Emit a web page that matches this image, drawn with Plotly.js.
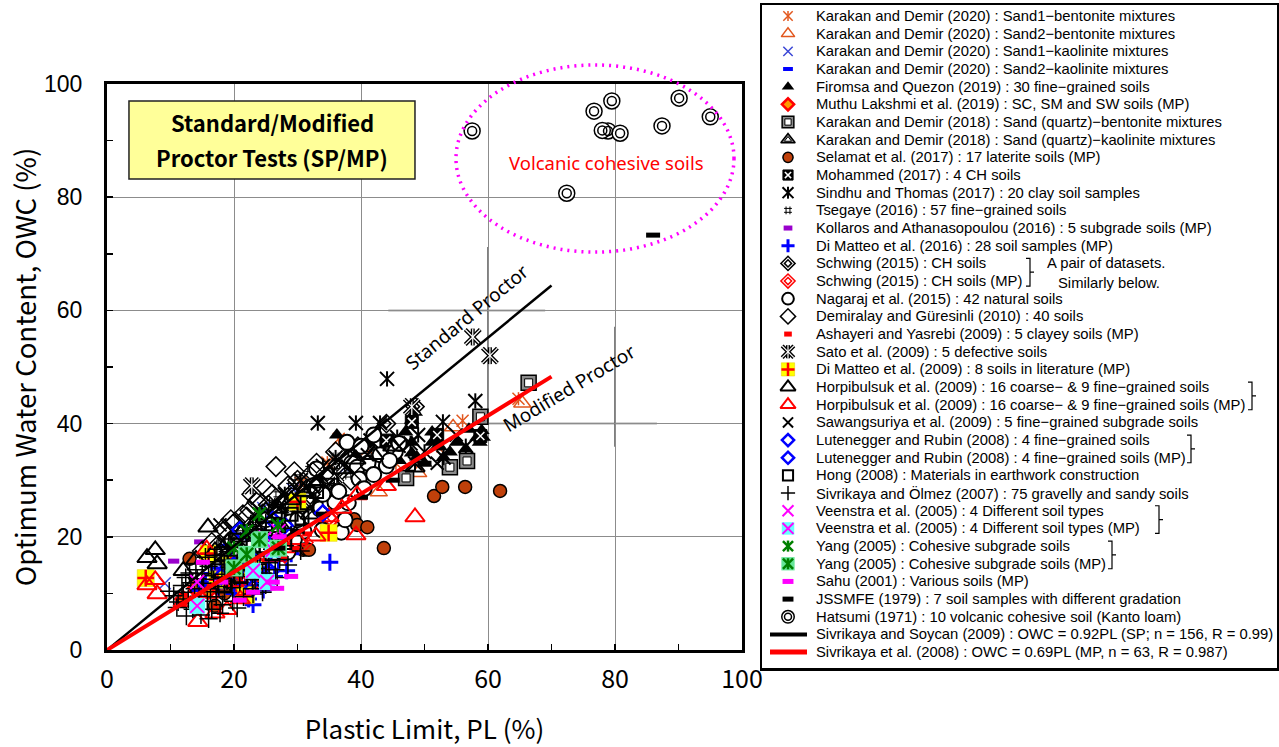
<!DOCTYPE html>
<html><head><meta charset="utf-8">
<script src="https://cdn.plot.ly/plotly-3.0.1.min.js"></script>
<style>html,body{margin:0;padding:0;background:#fff;}#chart{width:1279px;height:747px;}</style>
</head><body><div id="chart"></div>
<script>
// ---------- data (PL %, OWC %) ----------
const kd20S1B_PL = [36.5,34.7,30.5,41,45.5,52,64.8,56];
const kd20S1B_OWC = [37.3,33.1,29.5,35.5,33,36,44.4,40.5];
const kd20S2B_PL = [54.5,42.8,49,65.4,36,31];
const kd20S2B_OWC = [39.4,27.9,31.3,43.6,26,23];
const kd20S1K_PL = [9.1,24.6,29.3,37.5,18.5,21,26.5,32];
const kd20S1K_OWC = [11.8,25.1,28.4,32.3,16,19,22.5,27];
const kd20S2K_PL = [20,22.5,25,28,31];
const kd20S2K_OWC = [15,17,19.5,21.5,23.5];
const firomsa_PL = [36.2,41,39.2,44.1,48,48,51.2,52.4,55.1,58.3,58.7,59.2,48,51.2,43,42.5,48.8,52,48.5,38,40,46,50,54,57,59,45,47,53,56.5];
const firomsa_OWC = [38,36.6,34.4,35.5,36.7,34.8,36.7,35.9,36.7,37.6,36.7,37.6,40.6,38.5,34.1,34.1,34.1,35.9,42,33,32,33.5,33,35,39,38.8,37,38.5,34,35.5];
const muthu_PL = [12,14,16,19,21,23];
const muthu_OWC = [9,11,10.5,12.8,11.1,13.5];
const kd18B_PL = [66.4,58.8,54,56.7,47.1];
const kd18B_OWC = [47.2,41.2,32.3,33.4,30.4];
const kd18K_PL = [26,30,33,36,40,44];
const kd18K_OWC = [21,24,27,29,32,35];
const selamat_PL = [13,17,18.5,20,22,30.9,31.4,31.8,38.9,39.4,41,43.6,51.5,52.8,56.4,61.9,24];
const selamat_OWC = [16.1,7.8,10,12.5,14,17.7,17.8,17.7,23.1,22.1,21.7,18,27.2,28.8,28.8,28.1,13];
const mohammed_PL = [48,58.8,44,52];
const mohammed_OWC = [40.3,37.8,37,38];
const sindhu_PL = [44.1,33.2,39.2,43,52.9,58,45.7,47.8,50,53,56.5,49,41.5,38,36,30.5,34,28,26,48.5];
const sindhu_OWC = [47.9,40.1,40.1,40.1,40.3,44,37.6,36.5,35,34,36,38,37,35.5,34,30,32.5,27.5,25,33];
const tsegaye_PL = [16,17.5,18.5,19.5,20.5,21,22,22.5,23.5,24,25,25.5,26.5,27,28,28.5,29.5,30,31,31.5,32.5,33,34,35,36,37,38,39,40,41,42,20,23,26,29,32,18,21,24,27,30,19,22,25,28,31,34,37,40,17,23,26,33,36,38,27,30];
const tsegaye_OWC = [15,16.5,14.5,17.5,16,18.5,17,20,18.5,21,19.5,22.5,21,24,22.5,25.5,24,27,25.5,28.5,27,30,28.5,31,29.5,32.5,31,34,32.5,35.5,34,20,23,26,29,32,19,21.5,24.5,27.5,30.5,13,14.5,16.5,18.5,20.5,23,26,28.5,12.5,11.5,14,26,34,36,19,22.5];
const kollaros_PL = [10.5,14.6,18,21.5,24];
const kollaros_OWC = [15.7,19.1,14,16.5,13.5];
const dm16_PL = [14.5,15.5,16.5,17.5,18,18.8,19.5,20,20.6,21.2,21.8,22.3,22.9,23.5,24,24.6,25.2,25.8,26.4,27,27.6,28.3,29,22,19,24.8,23,35.1];
const dm16_OWC = [10.5,12,13.5,11,14.5,12.5,16,10,13.8,15.2,11.4,9,16.8,12.6,14.5,10.6,14.5,17.5,13,15.8,19,14,17,20.5,18.5,20,8,15.5];
const schwing_PL = [48.5,39.5,44,35];
const schwing_OWC = [43,36,40,30];
const schwingMP_PL = [22.5,35.4,36.5,28,31];
const schwingMP_OWC = [12.4,23.3,22.2,17,19];
const nagaraj_PL = [19.7,21,23,24.5,26,27.6,28.8,28.5,30.4,31,32,33.5,33.9,35.1,35.9,36.9,37.5,35,36.5,37.8,38.5,39.4,39.7,40.5,41.1,42,43,44,45.4,46,34,32.5,31.5,30,38,29.5,27,25,33,40,42,44.5];
const nagaraj_OWC = [19.4,17.5,20.5,18,21.5,17.3,22.6,17.3,25.1,21,23.5,24.9,21.2,26.1,26.1,20.8,23,30.6,28,36.7,33,32.3,30.2,28.5,33,31,34.5,32.5,35,36.5,27.5,29,26.5,23,26,19.5,24,23,32,36,38,33.5];
const demiralay_PL = [15,16.5,18.3,20,20.2,21.4,22,22.5,23.6,23.8,25.4,26.6,27.7,27.7,28.3,29,30.9,31.5,32.4,33.5,34.5,36.5,38.4,39,17.5,19,21,24.5,26,28.5,30,32,33,35,25,29.5,36,19.5,22.8,18];
const demiralay_OWC = [17.5,19,21.5,22.4,22.6,23.9,23.5,24.7,26.1,26.5,25.6,32.4,26.1,25.8,26.1,27.5,24.7,28.5,31.4,29.5,30.5,32.2,30,33,18.5,20,21,24,27.5,29,30,27.5,33,31,28.5,31.5,35,23,27.5,17];
const ashayeri_PL = [29.5,27.7,17,23,31.5];
const ashayeri_OWC = [18,16.3,12.5,13.2,20.5];
const sato_PL = [57.6,60.3,48,22.8,36];
const sato_OWC = [55.3,52,43,29,31];
const dm09_PL = [6.1,21.9,30,34.9,17.4,19.5,23,16];
const dm09_OWC = [12.7,9.7,26.2,20.7,12.4,15,14.2,17];
const horpSP_PL = [6.3,7.6,7.9,15.9,39.2,48.5,12,14,17,19,21,23,25,27,29,31,33,35,37,42,45,20,24,28,32];
const horpSP_OWC = [16.3,17.7,15.2,21.7,33.7,32.3,14,16,17.5,19,20.5,22,23.5,25,26.5,28,29.5,31,32,34.5,36,14,18,21,24];
const horpMP_PL = [6.3,7.6,7.9,14.3,18.9,15.7,39.4,48.5,32.9,39.2,35,12,16,20,22,24,26,28,30,17,21,25,37,44,13];
const horpMP_OWC = [11.5,12.4,9.9,5,7.1,17.8,27.4,23.5,20.1,20.3,23.5,8.5,10,12,13.5,15,16.5,18,19.5,6.5,9,11.5,25,29,9];
const sawang_PL = [17.8,41,52,46,55];
const sawang_OWC = [22.1,34.5,33,36,38];
const lut_PL = [20.9,26.1,34,28];
const lut_OWC = [21.2,23,24.2,22];
const lutMP_PL = [25.7,20,23,18];
const lutMP_OWC = [13.8,15,11,13];
const hong_PL = [16,17.5,18.5,19.5,20.2,21,22,23,24,25,26,27,28,29,30.7,31.5,33,20,24,18,22.5,26.5];
const hong_OWC = [12,14,11.5,15.5,19.4,13,16,18.5,14,20,17,22,19,24,23.3,26,28,17,22,17,21,24.5];
const sivOl_PL = [10.5,11.2,12,12.8,13.5,13.8,14.5,15.2,15.8,16.3,16.8,17.2,17.6,18.1,18.5,18.9,19.3,19.7,20.1,20.5,20.9,21.3,21.7,22.1,22.5,22.9,23.3,23.7,24.1,24.5,25,25.5,26,26.5,27.2,28,29,12.4,13,14,15,16,17,18,19,20,21,14.8,16.5,18.2,19.8,21.5,23,11.8,13.2,14.2,15.5,17.3,19.5,22,24,26,17.8,20.5,24.5,26.8,28.5,30.5,9.8,11,12.5,16,27.5,25,31];
const sivOl_OWC = [9.6,8.5,10.2,9,7.2,10.8,9.5,11.8,8.6,10.3,12.5,9.4,11.2,13.4,10.1,12.2,14.6,11,13.1,15.5,12,14,16.3,13,15,10.8,12.4,14.4,16.6,13.6,11.5,15.4,17.8,14.2,16,18.4,20.2,12.8,13.6,14.2,13.5,14.8,15.6,16.7,17.4,18.5,19.2,6.2,7.2,8,8.6,9.4,9.9,11.4,11.9,12.6,16.4,17.8,19.6,18,19.5,20.8,6.5,7.4,10.2,12.8,15,17.5,10.4,7.5,6,5.5,21.5,22.5,22];
const veen_PL = [14.2,25,22,27];
const veen_OWC = [12,19.9,15.5,21];
const veenMP_PL = [14.2,25.2,26.1,23];
const veenMP_OWC = [7.8,12,17.7,14];
const yang_PL = [22,26.9,24,20];
const yang_OWC = [21,22,24,18];
const yangMP_PL = [22,27,24,20];
const yangMP_OWC = [16.9,18,19.5,14.5];
const sahu_PL = [15.1,26.8,27.2,26.1,20.9,23,18,29];
const sahu_OWC = [15.5,10.9,20,12,8.8,10.2,12,13];
const jssmfe_PL = [86,30,34,40,27,45,50];
const jssmfe_OWC = [73.3,21,24,27,18,30,33];
const hatsumi_PL = [57.5,76.7,79.5,78.9,80.8,87.4,90.1,95,72.4,78];
const hatsumi_OWC = [91.7,95.2,97,91.7,91.3,92.6,97.5,94.2,80.7,91.8];
// fitted relations
const spLine_PL = [0, 70];
const spLine_OWC = [0, 64.4];   // OWC = 0.92 PL
const mpLine_PL = [0, 70];
const mpLine_OWC = [0, 48.3];   // OWC = 0.69 PL

const legendLabels = [
 'Karakan and Demir (2020) : Sand1−bentonite mixtures',
 'Karakan and Demir (2020) : Sand2−bentonite mixtures',
 'Karakan and Demir (2020) : Sand1−kaolinite mixtures',
 'Karakan and Demir (2020) : Sand2−kaolinite mixtures',
 'Firomsa and Quezon (2019) : 30 fine−grained soils',
 'Muthu Lakshmi et al. (2019) : SC, SM and SW soils (MP)',
 'Karakan and Demir (2018) : Sand (quartz)−bentonite mixtures',
 'Karakan and Demir (2018) : Sand (quartz)−kaolinite mixtures',
 'Selamat et al. (2017) : 17 laterite soils (MP)',
 'Mohammed (2017) : 4 CH soils',
 'Sindhu and Thomas (2017) : 20 clay soil samples',
 'Tsegaye (2016) : 57 fine−grained soils',
 'Kollaros and Athanasopoulou (2016) : 5 subgrade soils (MP)',
 'Di Matteo et al. (2016) : 28 soil samples (MP)',
 'Schwing (2015) : CH soils',
 'Schwing (2015) : CH soils (MP)',
 'Nagaraj et al. (2015) : 42 natural soils',
 'Demiralay and Güresinli (2010) : 40 soils',
 'Ashayeri and Yasrebi (2009) : 5 clayey soils (MP)',
 'Sato et al. (2009) : 5 defective soils',
 'Di Matteo et al. (2009) : 8 soils in literature (MP)',
 'Horpibulsuk et al. (2009) : 16 coarse− & 9 fine−grained soils',
 'Horpibulsuk et al. (2009) : 16 coarse− & 9 fine−grained soils (MP)',
 'Sawangsuriya et al. (2009) : 5 fine−grained subgrade soils',
 'Lutenegger and Rubin (2008) : 4 fine−grained soils',
 'Lutenegger and Rubin (2008) : 4 fine−grained soils (MP)',
 'Hong (2008) : Materials in earthwork construction',
 'Sivrikaya and Ölmez (2007) : 75 gravelly and sandy soils',
 'Veenstra et al. (2005) : 4 Different soil types',
 'Veenstra et al. (2005) : 4 Different soil types (MP)',
 'Yang (2005) : Cohesive subgrade soils',
 'Yang (2005) : Cohesive subgrade soils (MP)',
 'Sahu (2001) : Various soils (MP)',
 'JSSMFE (1979) : 7 soil samples with different gradation',
 'Hatsumi (1971) : 10 volcanic cohesive soil (Kanto loam)',
 'Sivrikaya and Soycan (2009) : OWC = 0.92PL (SP; n = 156, R = 0.99)',
 'Sivrikaya et al. (2008) : OWC = 0.69PL (MP, n = 63, R = 0.987)'
];

// ---------- styles ----------
const OR='#E2571E', BX='#3B47D6', BL='#0000FF', MG='#FF00FF', GR='#008000';
const ast6 = (c,w,s)=>[{s:'x-thin-open',size:s,lc:c,lw:w},{s:'line-ns-open',size:s*0.78,lc:c,lw:w}];
const series = [
 {x:kd20S1B_PL,y:kd20S1B_OWC,L:ast6(OR,1.5,12)},
 {x:kd20S2B_PL,y:kd20S2B_OWC,L:[{s:'triangle-up-open',size:15,lc:OR,lw:1.5}]},
 {x:kd20S1K_PL,y:kd20S1K_OWC,L:[{s:'x-thin-open',size:12,lc:BX,lw:1.5}]},
 {x:kd20S2K_PL,y:kd20S2K_OWC,L:[{s:'line-ew-open',size:9,lc:BL,lw:4}]},
 {x:firomsa_PL,y:firomsa_OWC,L:[{s:'triangle-up',size:14,c:'black',lc:'black',lw:0}]},
 {x:muthu_PL,y:muthu_OWC,L:[{s:'diamond',size:12,c:'#FF9900',lc:'#FF0000',lw:2.5}]},
 {x:kd18B_PL,y:kd18B_OWC,L:[{s:'square',size:15,c:'#8c8c8c',lc:'black',lw:1.5},{s:'square',size:8,c:'white',lc:'black',lw:1}]},
 {x:kd18K_PL,y:kd18K_OWC,L:[{s:'triangle-up',size:16,c:'#8c8c8c',lc:'black',lw:1.5},{s:'triangle-up',size:8,c:'white',lc:'black',lw:1}]},
 {x:selamat_PL,y:selamat_OWC,L:[{s:'circle',size:13,c:'#C0400A',lc:'black',lw:1.5}]},
 {x:mohammed_PL,y:mohammed_OWC,L:[{s:'square',size:13,c:'black',lc:'black',lw:1},{s:'x-thin-open',size:8,lc:'white',lw:1.5}]},
 {x:sindhu_PL,y:sindhu_OWC,L:ast6('black',2,14)},
 {x:tsegaye_PL,y:tsegaye_OWC,L:[{s:'hash-open',size:10,lc:'black',lw:1}]},
 {x:kollaros_PL,y:kollaros_OWC,L:[{s:'line-ew-open',size:8,lc:'#9900CC',lw:5}]},
 {x:dm16_PL,y:dm16_OWC,L:[{s:'cross-thin-open',size:12,lc:BL,lw:3}]},
 {x:schwing_PL,y:schwing_OWC,L:[{s:'diamond-open',size:14,lc:'black',lw:1.5},{s:'diamond-open',size:7,lc:'black',lw:1.5}]},
 {x:schwingMP_PL,y:schwingMP_OWC,L:[{s:'diamond-open',size:14,lc:'#FF0000',lw:1.5},{s:'diamond-open',size:7,lc:'#FF0000',lw:1.5}]},
 {x:nagaraj_PL,y:nagaraj_OWC,L:[{s:'circle',size:15,c:'white',lc:'black',lw:2}]},
 {x:demiralay_PL,y:demiralay_OWC,L:[{s:'diamond-open',size:15,lc:'black',lw:1.5}]},
 {x:ashayeri_PL,y:ashayeri_OWC,L:[{s:'line-ew-open',size:7,lc:'#FF0000',lw:5}]},
 {x:sato_PL,y:sato_OWC,L:[{s:'x-thin-open',size:15,lc:'black',lw:4},{s:'line-ns-open',size:12,lc:'black',lw:4},{s:'x-thin-open',size:15,lc:'white',lw:1.2},{s:'line-ns-open',size:12,lc:'white',lw:1.2}]},
 {x:dm09_PL,y:dm09_OWC,L:[{s:'square',size:17,c:'#FFFF00',lc:'#E6C800',lw:0.5},{s:'cross-thin-open',size:12,lc:'#FF0000',lw:2.5}]},
 {x:horpSP_PL,y:horpSP_OWC,L:[{s:'triangle-up-open',size:17,lc:'black',lw:2}]},
 {x:horpMP_PL,y:horpMP_OWC,L:[{s:'triangle-up-open',size:17,lc:'#FF0000',lw:2}]},
 {x:sawang_PL,y:sawang_OWC,L:[{s:'x-thin-open',size:13,lc:'black',lw:2}]},
 {x:lut_PL,y:lut_OWC,L:[{s:'diamond-open',size:12,lc:BL,lw:2.5}]},
 {x:lutMP_PL,y:lutMP_OWC,L:[{s:'diamond-open',size:12,lc:BL,lw:2.5}]},
 {x:hong_PL,y:hong_OWC,L:[{s:'square-open',size:13,lc:'black',lw:2}]},
 {x:sivOl_PL,y:sivOl_OWC,L:[{s:'cross-thin-open',size:13,lc:'black',lw:1.5}]},
 {x:veen_PL,y:veen_OWC,L:[{s:'x-thin-open',size:14,lc:MG,lw:2}]},
 {x:veenMP_PL,y:veenMP_OWC,L:[{s:'square',size:16,c:'#66FFFF',lc:'#66FFFF',lw:0},{s:'x-thin-open',size:14,lc:MG,lw:2}]},
 {x:yang_PL,y:yang_OWC,L:ast6(GR,2.5,13)},
 {x:yangMP_PL,y:yangMP_OWC,L:[{s:'square',size:17,c:'#66E699',lc:'#66E699',lw:0}].concat(ast6(GR,2.5,13))},
 {x:sahu_PL,y:sahu_OWC,L:[{s:'line-ew-open',size:10,lc:MG,lw:5}]},
 {x:jssmfe_PL,y:jssmfe_OWC,L:[{s:'line-ew-open',size:10,lc:'black',lw:5}]},
 {x:hatsumi_PL,y:hatsumi_OWC,L:[{s:'circle',size:16,c:'white',lc:'black',lw:1.5},{s:'circle-open',size:9,lc:'black',lw:1.5}]}
];

const traces = [];
function mk(x,y,L,xa,ya,scale){
  const open = !L.c;
  return {type:'scatter',mode:'markers',x:x,y:y,xaxis:xa,yaxis:ya,showlegend:false,hoverinfo:'skip',cliponaxis:false,
    marker:{symbol:L.s,size:L.size*scale,color:open?L.lc:L.c,opacity:1,line:{color:L.lc,width:L.lw}}};
}
const HATS = series.length-1;
series.forEach((sd,i)=>{ if(i!==HATS) sd.L.forEach(L=>traces.push(mk(sd.x,sd.y,L,'x','y',1))); });
traces.push({type:'scatter',mode:'lines',x:spLine_PL,y:spLine_OWC,xaxis:'x',yaxis:'y',showlegend:false,hoverinfo:'skip',line:{color:'black',width:2.5}});
traces.push({type:'scatter',mode:'lines',x:mpLine_PL,y:mpLine_OWC,xaxis:'x',yaxis:'y',showlegend:false,hoverinfo:'skip',line:{color:'#FF0000',width:4}});
series[HATS].L.forEach(L=>traces.push(mk(series[HATS].x,series[HATS].y,L,'x','y',1)));

// ---------- hand-made legend panel (x2/y2 in pixel-like units) ----------
const rowY = i => 16 + i*17.67;
const symX = 26, txtX = 52;
series.forEach((sd,i)=>{ sd.L.forEach(L=>traces.push(mk([symX],[rowY(i)],L,'x2','y2',0.78))); });
traces.push({type:'scatter',mode:'lines',x:[8,45],y:[rowY(35),rowY(35)],xaxis:'x2',yaxis:'y2',showlegend:false,hoverinfo:'skip',line:{color:'black',width:4}});
traces.push({type:'scatter',mode:'lines',x:[8,45],y:[rowY(36),rowY(36)],xaxis:'x2',yaxis:'y2',showlegend:false,hoverinfo:'skip',line:{color:'#FF0000',width:5}});

const LF = {family:'Liberation Sans, Arial, sans-serif',size:14.8,color:'black'};
const annotations = legendLabels.map((t,i)=>({xref:'x2',yref:'y2',x:txtX,y:rowY(i),text:t,showarrow:false,xanchor:'left',yanchor:'middle',font:LF}));
annotations.push({xref:'x2',yref:'y2',x:283,y:rowY(14),text:'A pair of datasets.',showarrow:false,xanchor:'left',yanchor:'middle',font:LF});
annotations.push({xref:'x2',yref:'y2',x:294,y:rowY(15)+2,text:'Similarly below.',showarrow:false,xanchor:'left',yanchor:'middle',font:LF});

function bracket(x,i){
  const y0=rowY(i)-5, y1=rowY(i+1)+5, ym=(y0+y1)/2;
  return {type:'path',xref:'x2',yref:'y2',path:`M${x-4},${y0} L${x},${y0} L${x},${y1} L${x-4},${y1} M${x},${ym} L${x+4},${ym}`,line:{color:'black',width:1.2}};
}
const shapes = [
  bracket(268,14), bracket(490,21), bracket(429,24), bracket(397,28), bracket(350,30),
  // darker crosshair segments in the plot
  {type:'line',xref:'x',yref:'y',x0:44.3,y0:60,x1:69,y1:60,line:{color:'#555',width:1.5},layer:'below'},
  {type:'line',xref:'x',yref:'y',x0:60,y0:71.2,x1:60,y1:40.1,line:{color:'#555',width:1.5},layer:'below'},
  {type:'line',xref:'x',yref:'y',x0:80,y0:57.1,x1:80,y1:35.9,line:{color:'#555',width:1.5},layer:'below'},
  {type:'line',xref:'x',yref:'y',x0:60,y0:40,x1:86.6,y1:40,line:{color:'#555',width:1.5},layer:'below'},
  // title box
  {type:'rect',xref:'x',yref:'y',x0:3.46,x1:48.5,y0:83.2,y1:97.0,fillcolor:'#FFFF99',line:{color:'#222',width:1.5},layer:'above'},
  // volcanic ellipse
  {type:'circle',xref:'x domain',yref:'y domain',x0:0.5496,x1:0.9874,y0:0.703,y1:1.0336,line:{color:'#FF00FF',width:3.5,dash:'2px,5px'}}
];

const BF = {family:'Noto Sans CJK JP, sans-serif',size:22,color:'black',weight:'bold'};
annotations.push({xref:'x',yref:'y',x:26,y:93.2,text:'<b>Standard/Modified</b>',showarrow:false,font:BF});
annotations.push({xref:'x',yref:'y',x:26,y:87.1,text:'<b>Proctor Tests (SP/MP)</b>',showarrow:false,font:BF});
annotations.push({xref:'x',yref:'y',x:78.6,y:86.2,text:'Volcanic cohesive soils',showarrow:false,font:{family:'Noto Sans, sans-serif',size:18.5,color:'#FF0000'}});
annotations.push({xref:'x',yref:'y',x:56.7,y:58.8,text:'Standard Proctor',textangle:-39.6,showarrow:false,font:{family:'Noto Sans, sans-serif',size:19,color:'black'}});
annotations.push({xref:'x',yref:'y',x:72.8,y:46.3,text:'Modified Proctor',textangle:-31,showarrow:false,font:{family:'Noto Sans, sans-serif',size:19,color:'black'}});

const hidden = {showgrid:false,zeroline:false,showticklabels:false,ticks:'',showline:true,mirror:true,linecolor:'black',linewidth:2.5,fixedrange:true};
const layout = {
  width:1279,height:747,margin:{l:107,r:2,t:5,b:79},paper_bgcolor:'white',plot_bgcolor:'white',showlegend:false,
  xaxis:{domain:[0,0.54274],range:[0,100],tick0:0,dtick:20,ticks:'inside',ticklen:6,tickwidth:1.5,tickcolor:'black',
    minor:{dtick:10,ticks:'inside',ticklen:6,tickwidth:1.5,tickcolor:'black',showgrid:false},
    showgrid:true,gridcolor:'#8c8c8c',gridwidth:1,zeroline:false,showline:true,mirror:true,linecolor:'black',linewidth:3,
    tickfont:{family:'Noto Sans CJK JP, sans-serif',size:25,color:'black'},ticklabelstandoff:5,
    title:{text:'Plastic Limit, PL (%)',font:{family:'Noto Sans CJK JP, sans-serif',size:26,color:'black'},standoff:27},anchor:'y',fixedrange:true},
  yaxis:{domain:[0.027149,0.880845],range:[0,100],tick0:0,dtick:20,ticks:'inside',ticklen:6,tickwidth:1.5,tickcolor:'black',
    minor:{dtick:10,ticks:'inside',ticklen:6,tickwidth:1.5,tickcolor:'black',showgrid:false},
    showgrid:true,gridcolor:'#8c8c8c',gridwidth:1,zeroline:false,showline:true,mirror:true,linecolor:'black',linewidth:3,
    tickfont:{family:'Liberation Sans, Arial, sans-serif',size:23,color:'black'},ticklabelstandoff:17,
    title:{text:'Optimum Water Content, OWC (%)',font:{family:'Noto Sans CJK JP, sans-serif',size:27.5,color:'black'},standoff:0},anchor:'x',fixedrange:true},
  xaxis2:Object.assign({domain:[0.55983,1],range:[0,515],anchor:'y2'},hidden),
  yaxis2:Object.assign({domain:[0,1],range:[668,5],anchor:'x2'},hidden),
  shapes:shapes,annotations:annotations
};
Plotly.newPlot('chart',traces,layout,{displayModeBar:false,staticPlot:true});
</script></body></html>
